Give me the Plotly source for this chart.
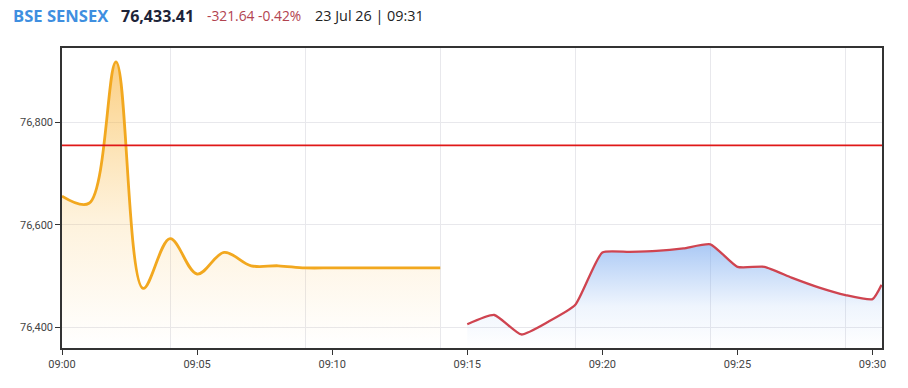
import plotly.graph_objects as go

DAY = "2026-07-23 "
# Pre-open session (orange)
times_a = ["09:00", "09:01", "09:02", "09:03", "09:04", "09:05", "09:06", "09:07",
           "09:08", "09:09", "09:10", "09:11", "09:12", "09:13", "09:14"]
vals_a = [76656, 76642, 76918, 76476, 76573, 76504, 76546, 76520,
          76520, 76516, 76516, 76516, 76516, 76516, 76516]
# Normal session (red line, blue fill)
times_b = ["09:15", "09:16", "09:17", "09:18", "09:19", "09:20", "09:21", "09:22",
           "09:23", "09:24", "09:25", "09:26", "09:27", "09:28", "09:29", "09:30", "09:30:20"]
vals_b = [76406, 76424, 76386, 76411, 76444, 76546, 76547, 76549,
          76554, 76562, 76518, 76518, 76497, 76478, 76463, 76455, 76483]
PREV_CLOSE = 76755.05
y_ticks = [76400, 76600, 76800]
x_ticks = ["09:00", "09:05", "09:10", "09:15", "09:20", "09:25", "09:30"]
x_grid = ["09:04", "09:09", "09:14", "09:19", "09:24", "09:29"]

Y_RANGE = [76359.6, 76945]
X_RANGE = [DAY + "09:00:00", DAY + "09:30:21"]

xa = [DAY + t for t in times_a]
xb = [DAY + t for t in times_b]

fig = go.Figure()
fig.add_trace(go.Scatter(
    x=xa, y=vals_a, mode="lines", fill="tozeroy",
    line=dict(color="#f2a81f", width=2.8, shape="spline", smoothing=1),
    fillgradient=dict(type="vertical", start=Y_RANGE[0], stop=76918,
                      colorscale=[[0, "rgba(250,190,80,0.0)"], [0.45, "rgba(250,190,80,0.2)"],
                                  [1, "rgba(248,178,55,0.62)"]]),
    hoverinfo="skip", showlegend=False))
fig.add_trace(go.Scatter(
    x=xb, y=vals_b, mode="lines", fill="tozeroy",
    line=dict(color="#cf4450", width=2.3, shape="spline", smoothing=0.5),
    fillgradient=dict(type="vertical", start=Y_RANGE[0], stop=76562,
                      colorscale=[[0, "rgba(120,170,240,0.0)"], [0.4, "rgba(120,170,240,0.12)"],
                                  [1, "rgba(115,165,238,0.6)"]]),
    hoverinfo="skip", showlegend=False))
# invisible trace to activate grid axis
fig.add_trace(go.Scatter(x=xa, y=vals_a, xaxis="x2", mode="lines", opacity=0,
                         hoverinfo="skip", showlegend=False))

fig.add_shape(type="line", xref="paper", x0=0, x1=1, yref="y", y0=PREV_CLOSE, y1=PREV_CLOSE,
              line=dict(color="#e01818", width=1.6), layer="above")

tick_font = dict(family="Roboto", size=11, color="#444")
fig.update_layout(
    width=908, height=388,
    margin=dict(l=62, r=26, t=48, b=40),
    paper_bgcolor="white", plot_bgcolor="white",
    xaxis=dict(type="date", range=X_RANGE, tickvals=[DAY + t for t in x_ticks],
               ticktext=x_ticks, showgrid=False, ticks="outside", ticklen=5,
               tickcolor="#333", showline=True, linecolor="#333", linewidth=1.5,
               mirror=True, zeroline=False, tickfont=tick_font),
    xaxis2=dict(type="date", range=X_RANGE, overlaying="x", matches="x",
                tickvals=[DAY + t for t in x_grid], showticklabels=False, ticks="",
                showgrid=True, gridcolor="#e8e8ec", gridwidth=1, showline=False, zeroline=False),
    yaxis=dict(range=Y_RANGE, tickvals=y_ticks, tickformat=",", showgrid=True,
               gridcolor="#e8e8ec", ticks="outside", ticklen=5, tickcolor="#333",
               showline=True, linecolor="#333", linewidth=1.5, mirror=True,
               zeroline=False, tickfont=tick_font),
)

hy = (348 - 16) / 300
def px(x):
    return (x - 62) / 820

fig.add_annotation(xref="paper", yref="paper", x=px(11), y=hy, xanchor="left", yanchor="middle",
                   text="<b>BSE SENSEX</b>", showarrow=False,
                   font=dict(family="Open Sans", size=16.6, color="#3f8fe0"))
fig.add_annotation(xref="paper", yref="paper", x=px(119), y=hy, xanchor="left", yanchor="middle",
                   text="<b>76,433.41</b>", showarrow=False,
                   font=dict(family="Open Sans", size=16, color="#1d2438"))
fig.add_annotation(xref="paper", yref="paper", x=px(205), y=hy, xanchor="left", yanchor="middle",
                   text="-321.64 -0.42%", showarrow=False,
                   font=dict(family="Open Sans", size=13.8, color="#b2434f"))
fig.add_annotation(xref="paper", yref="paper", x=px(313), y=hy, xanchor="left", yanchor="middle",
                   text="23 Jul 26 | 09:31", showarrow=False,
                   font=dict(family="Open Sans", size=14.4, color="#222"))

fig.write_html("out.html")
